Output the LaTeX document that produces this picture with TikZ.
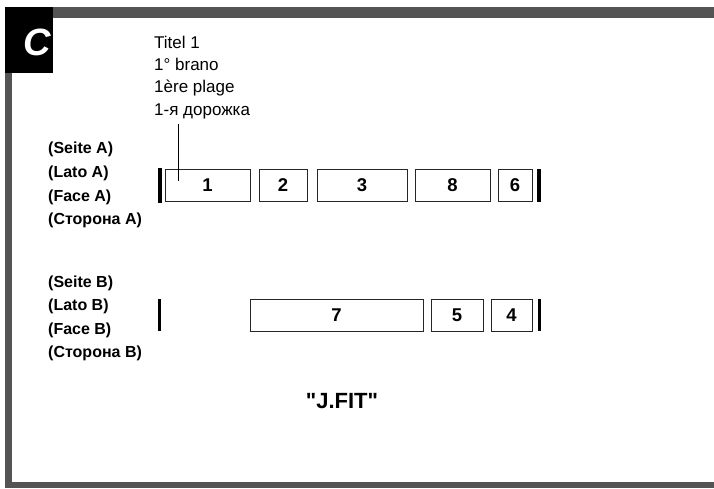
\documentclass[tikz,border=0pt]{standalone}
\usepackage{fontspec}
\setmainfont{Liberation Sans}
\newfontfamily\plainquotes{Liberation Sans}[Ligatures=TeXOff]
\definecolor{frame}{gray}{0.33}
\begin{document}
\begin{tikzpicture}[x=1pt,y=-1pt,
  track/.style={draw=black!85,line width=0.9pt,inner sep=0pt,minimum height=32pt,font=\fontsize{18.5}{18.5}\selectfont\bfseries},
  endbar/.style={fill=black,draw=none},
  side/.style={anchor=base west,inner sep=0pt,font=\fontsize{16}{16}\selectfont\bfseries},
  title/.style={anchor=base west,inner sep=0pt,font=\fontsize{17}{17}\selectfont},
  pinline/.style={draw=black,line width=0.8pt}]
\useasboundingbox (0,0) rectangle (714,488);
\fill[white] (0,0) rectangle (714,488);
% frame
\fill[frame] (5,7) rectangle (714,18);
\fill[frame] (5,7) rectangle (12,488);
\fill[frame] (5,482) rectangle (714,488);
\fill[black] (5,7) rectangle (53,73);
\node[text=white,font=\fontsize{38}{38}\selectfont\bfseries\itshape] (C) at (37,42) {C};
% title texts
\node[title] (t1) at (154,48) {Titel 1};
\node[title] (t2) at (154,70) {1° brano};
\node[title] (t3) at (154,92) {1ère plage};
\node[title] (t4) at (154,115) {1-я дорожка};
% side A labels
\node[side] (sa1) at (48,153.5) {(Seite A)};
\node[side] (sa2) at (48,177.5) {(Lato A)};
\node[side] (sa3) at (48,201) {(Face A)};
\node[side] (sa4) at (48,224.5) {(Сторона A)};
% side B labels
\node[side] (sb1) at (48,287.5) {(Seite B)};
\node[side] (sb2) at (48,310.5) {(Lato B)};
\node[side] (sb3) at (48,334.5) {(Face B)};
\node[side] (sb4) at (48,357.5) {(Сторона B)};
% row A
\fill[endbar] (157.5,168) rectangle (161.5,203);
\node[track,minimum width=85pt] (a1) at (207.5,185) {1};
\node[track,minimum width=48pt] (a2) at (283,185) {2};
\node[track,minimum width=90pt] (a3) at (362,185) {3};
\node[track,minimum width=75pt] (a8) at (452.5,185) {8};
\node[track,minimum width=34pt] (a6) at (515,185) {6};
\fill[endbar] (537,169) rectangle (541,202);
% row B
\fill[endbar] (157.5,299) rectangle (161,331);
\node[track,minimum width=173pt] (b7) at (336.5,315) {7};
\node[track,minimum width=52pt] (b5) at (457,315) {5};
\node[track,minimum width=41pt] (b4) at (511.5,315) {4};
\fill[endbar] (537.5,299) rectangle (541,331);
% pointer
\coordinate (pin) at (178,181);
\draw[pinline] ([yshift=-9pt]t4.base -| pin) -- (pin);
% J.FIT
\node[font=\plainquotes\fontsize{22}{22}\selectfont\bfseries] (jfit) at (342,401) {"J.FIT"};
\end{tikzpicture}
\end{document}
